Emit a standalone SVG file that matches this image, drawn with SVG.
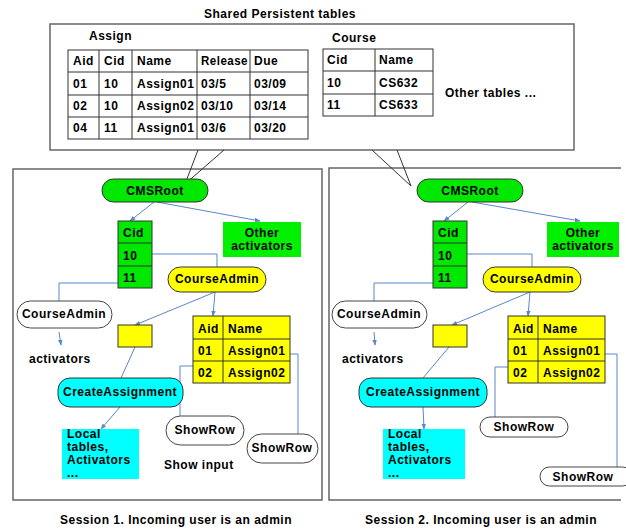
<svg xmlns="http://www.w3.org/2000/svg" width="626" height="529" viewBox="0 0 626 529">
<style>
text{font-family:"Liberation Sans",Arial,sans-serif;font-weight:bold;font-size:12px;letter-spacing:0.5px;fill:#000}
.c{text-anchor:middle}
.frame{fill:none;stroke:#666;stroke-width:1.5}
.tbl{fill:#fff;stroke:#333;stroke-width:1}
.ln{stroke:#333;stroke-width:1}
.g{fill:#00e800;stroke:#333;stroke-width:1}
.gn{fill:#00f000;stroke:none}
.y{fill:#ffff00;stroke:#333;stroke-width:1}
.cy{fill:#00ffff;stroke:#333;stroke-width:1}
.cyn{fill:#00ffff;stroke:none}
.w{fill:#fff;stroke:#444;stroke-width:1}
.con{fill:none;stroke:#5b86c8;stroke-width:1}
.ptr{fill:none;stroke:#333;stroke-width:1}
</style>
<defs>
<marker id="ah" viewBox="0 0 8 8" refX="7" refY="4" markerWidth="6" markerHeight="6" orient="auto">
<path d="M0,1 L8,4 L0,7 z" fill="#5b86c8"/>
</marker>
</defs>

<text id="title" class="c" x="280" y="18">Shared Persistent tables</text>

<g id="shared">
<rect class="frame" x="50" y="24" width="524" height="126"/>
<text x="89" y="40">Assign</text>
<g id="assign-table">
<rect class="tbl" x="68" y="50" width="240" height="89"/>
<path class="ln" d="M68,72H308M68,95H308M68,117H308M99,50V139M132,50V139M197,50V139M250,50V139"/>
<text x="73" y="65">Aid</text><text x="104" y="65">Cid</text><text x="137" y="65">Name</text><text x="201" y="65" textLength="47" lengthAdjust="spacingAndGlyphs">Release</text><text x="254" y="65">Due</text>
<text x="73" y="88">01</text><text x="104" y="88">10</text><text x="137" y="88">Assign01</text><text x="201" y="88">03/5</text><text x="254" y="88">03/09</text>
<text x="73" y="110">02</text><text x="104" y="110">10</text><text x="137" y="110">Assign02</text><text x="201" y="110">03/10</text><text x="254" y="110">03/14</text>
<text x="73" y="132">04</text><text x="104" y="132">11</text><text x="137" y="132">Assign01</text><text x="201" y="132">03/6</text><text x="254" y="132">03/20</text>
</g>
<text x="332" y="42">Course</text>
<g id="course-table">
<rect class="tbl" x="323" y="49" width="110" height="67"/>
<path class="ln" d="M323,71H433M323,94H433M375,49V116"/>
<text x="327" y="64">Cid</text><text x="379" y="64">Name</text>
<text x="327" y="87">10</text><text x="379" y="87">CS632</text>
<text x="327" y="109">11</text><text x="379" y="109">CS633</text>
</g>
<text x="445" y="97">Other tables  ...</text>
</g>

<g id="session1-frame"><rect class="frame" x="13" y="169" width="309" height="331"/></g>
<g id="session2-frame"><path class="frame" d="M621,168H329V500H621"/></g>

<g id="connectors">
<path class="ptr" d="M198,150L185,184L224,150"/>
<path class="ptr" d="M372,150L411,186L397,150"/>
<path class="con" d="M154,202L130,221" marker-end="url(#ah)"/>
<path class="con" d="M157,202L260,221" marker-end="url(#ah)"/>
<path class="con" d="M152,254H217V267"/>
<path class="con" d="M118,283H59V301"/>
<path class="con" d="M59,332L61,345" marker-end="url(#ah)"/>
<path class="con" d="M215,292L135,325" marker-end="url(#ah)"/>
<path class="con" d="M215,292L213,316" marker-end="url(#ah)"/>
<path class="con" d="M135,347L121,378"/>
<path class="con" d="M120,407L101,429" marker-end="url(#ah)"/>
<path class="con" d="M193,366H180V416"/>
<path class="con" d="M290,354H298V434"/>
<path class="con" d="M468,202L444,221" marker-end="url(#ah)"/>
<path class="con" d="M472,202L580,221" marker-end="url(#ah)"/>
<path class="con" d="M467,254H532V267"/>
<path class="con" d="M433,283H374V301"/>
<path class="con" d="M374,332L375,345" marker-end="url(#ah)"/>
<path class="con" d="M530,292L452,325" marker-end="url(#ah)"/>
<path class="con" d="M530,292L528,316" marker-end="url(#ah)"/>
<path class="con" d="M449,347L423,378"/>
<path class="con" d="M423,407L424,429" marker-end="url(#ah)"/>
<path class="con" d="M508,367H495V417"/>
<path class="con" d="M605,354H617V467"/>
</g>

<g id="s1-cmsroot"><rect class="g" x="102" y="179" width="106" height="23" rx="11.5"/><text class="c" x="155" y="195">CMSRoot</text></g>
<g id="s1-cid"><rect class="g" x="118" y="221" width="34" height="67"/><path class="ln" d="M118,243H152M118,266H152"/><text x="123" y="237">Cid</text><text x="123" y="260">10</text><text x="123" y="282">11</text></g>
<g id="s1-other"><rect class="gn" x="223" y="222" width="78" height="35"/><text class="c" x="262" y="237">Other</text><text class="c" x="262" y="250">activators</text></g>
<g id="s1-courseadmin"><rect class="y" x="168" y="267" width="98" height="25" rx="12.5"/><text class="c" x="217" y="283">CourseAdmin</text></g>
<g id="s1-courseadmin-w"><rect class="w" x="17" y="301" width="95" height="27" rx="13.5"/><text class="c" x="64" y="318">CourseAdmin</text></g>
<g id="s1-activators"><text x="29" y="363">activators</text></g>
<g id="s1-box"><rect class="y" x="118" y="325" width="34" height="22"/></g>
<g id="s1-aidtable"><rect class="y" x="193" y="316" width="97" height="67"/><path class="ln" d="M193,339H290M193,361H290M223,316V383"/><text x="198" y="333">Aid</text><text x="228" y="333">Name</text><text x="198" y="355">01</text><text x="228" y="355">Assign01</text><text x="198" y="377">02</text><text x="228" y="377">Assign02</text></g>
<g id="s1-create"><rect class="cy" x="58" y="378" width="125" height="29" rx="12"/><text class="c" x="120" y="396">CreateAssignment</text></g>
<g id="s1-local"><rect class="cyn" x="62" y="429" width="77" height="50"/><text x="67" y="438">Local</text><text x="67" y="451">tables,</text><text x="67" y="464">Activators</text><text x="67" y="477">...</text></g>
<g id="s1-showrow-a"><rect class="w" x="166" y="416" width="78" height="29" rx="14.5"/><text class="c" x="205" y="434">ShowRow</text></g>
<g id="s1-showrow-b"><rect class="w" x="247" y="434" width="71" height="29" rx="14.5"/><text class="c" x="282" y="452">ShowRow</text></g>
<g id="s1-showinput"><text x="164" y="469">Show input</text></g>

<g id="s2-cmsroot"><rect class="g" x="417" y="179" width="106" height="23" rx="11.5"/><text class="c" x="470" y="195">CMSRoot</text></g>
<g id="s2-cid"><rect class="g" x="433" y="221" width="34" height="67"/><path class="ln" d="M433,243H467M433,266H467"/><text x="438" y="237">Cid</text><text x="438" y="260">10</text><text x="438" y="282">11</text></g>
<g id="s2-other"><rect class="gn" x="547" y="222" width="72" height="35"/><text class="c" x="583" y="237">Other</text><text class="c" x="583" y="250">activators</text></g>
<g id="s2-courseadmin"><rect class="y" x="483" y="267" width="98" height="25" rx="12.5"/><text class="c" x="532" y="283">CourseAdmin</text></g>
<g id="s2-courseadmin-w"><rect class="w" x="332" y="301" width="95" height="27" rx="13.5"/><text class="c" x="379" y="318">CourseAdmin</text></g>
<g id="s2-activators"><text x="342" y="363">activators</text></g>
<g id="s2-box"><rect class="y" x="433" y="325" width="34" height="22"/></g>
<g id="s2-aidtable"><rect class="y" x="508" y="316" width="97" height="67"/><path class="ln" d="M508,339H605M508,361H605M538,316V383"/><text x="513" y="333">Aid</text><text x="543" y="333">Name</text><text x="513" y="355">01</text><text x="543" y="355">Assign01</text><text x="513" y="377">02</text><text x="543" y="377">Assign02</text></g>
<g id="s2-create"><rect class="cy" x="359" y="378" width="128" height="29" rx="12"/><text class="c" x="423" y="396">CreateAssignment</text></g>
<g id="s2-local"><rect class="cyn" x="383" y="429" width="82" height="50"/><text x="388" y="438">Local</text><text x="388" y="451">tables,</text><text x="388" y="464">Activators</text><text x="388" y="477">...</text></g>
<g id="s2-showrow-a"><rect class="w" x="480" y="417" width="88" height="20" rx="10"/><text class="c" x="524" y="431">ShowRow</text></g>
<g id="s2-showrow-b"><rect class="w" x="540" y="467" width="92" height="19" rx="9.5"/><text class="c" x="583" y="481">ShowRow</text></g>

<text id="cap1" class="c" x="176" y="524">Session 1. Incoming user is an admin</text>
<text id="cap2" class="c" x="481" y="524">Session 2. Incoming user is an admin</text>
</svg>
